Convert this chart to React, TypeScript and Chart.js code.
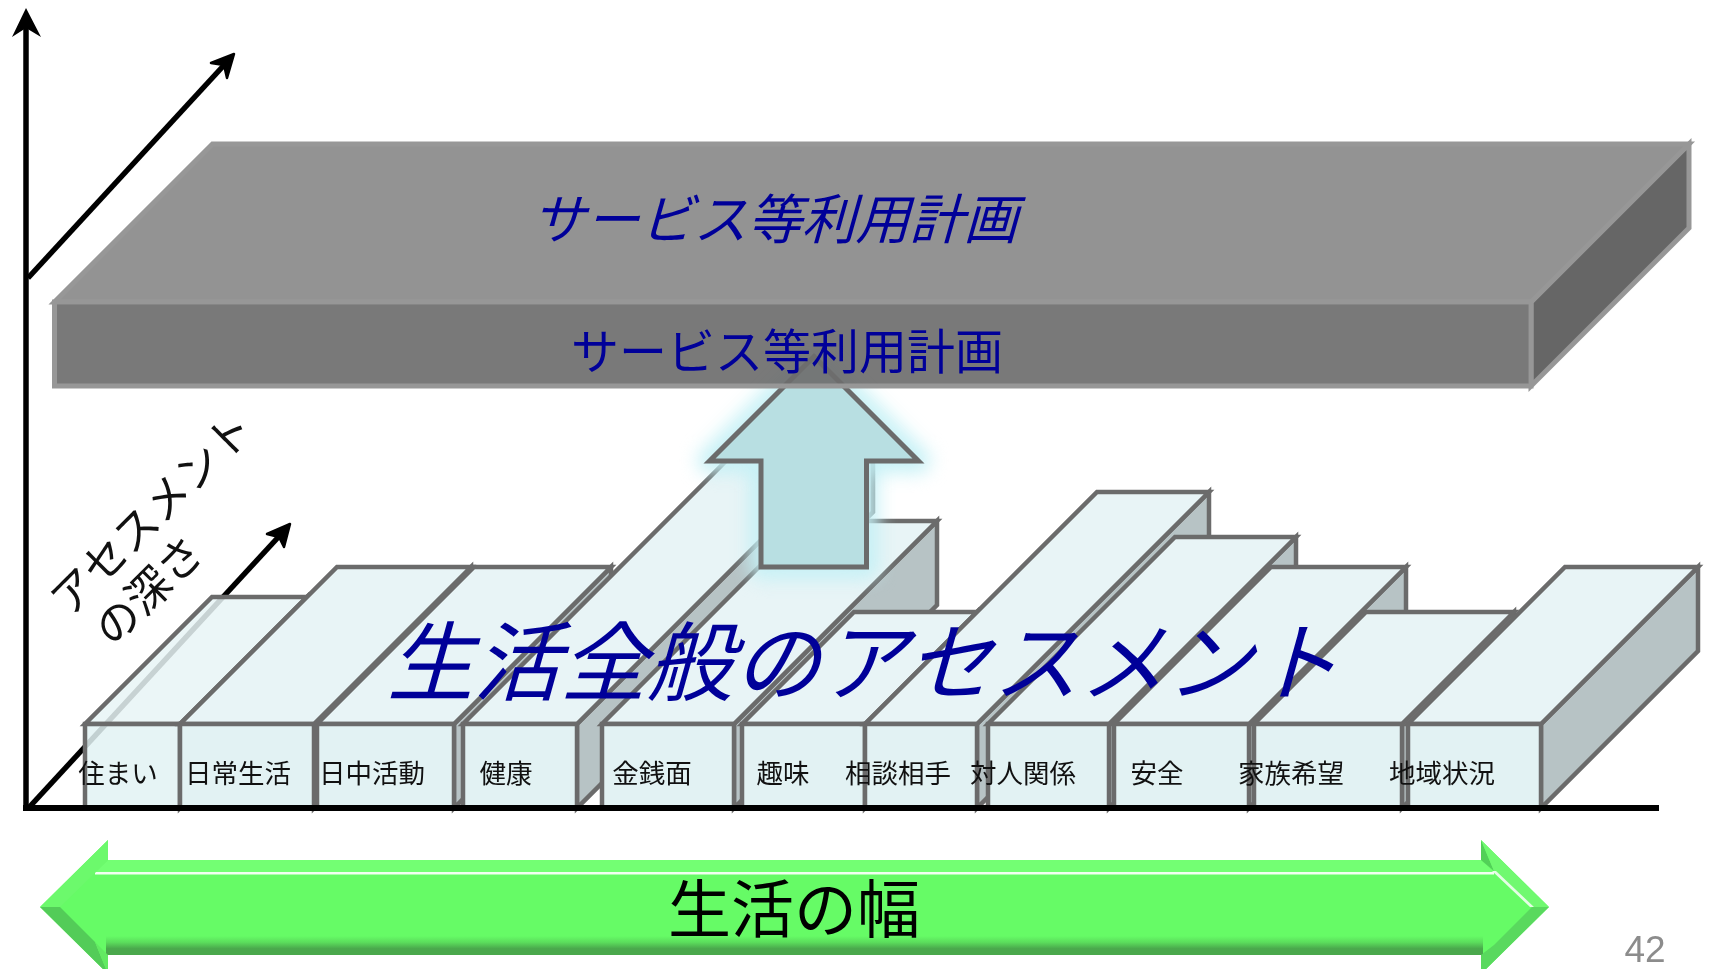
import React, { useEffect, useRef } from "react";
import { Chart, registerables } from "chart.js";

Chart.register(...registerables);

// Life-domain blocks of the assessment layer
const domainLabels = ["住まい", "日常生活", "日中活動", "健康", "金銭面", "趣味", "相談相手", "対人関係", "安全", "家族希望", "地域状況"];
const domainStart = [85, 180, 317, 463, 602, 742, 865, 988, 1114, 1254, 1408];
const domainEnd = [180, 314, 454, 577, 734, 865, 977, 1109, 1249, 1402, 1541];
const domainDepth = [127, 157, 157, 296, 203, 112, 232, 187, 157, 112, 157];
const domainLabelX = [118, 238, 372, 506, 652, 783, 898, 1023, 1157, 1291, 1442];

const blockFrontTop = 724;
const groundY = 808;

// Service-plan slab
const planStart = 54.5;
const planEnd = 1531;
const planFrontTop = 302;
const planFrontBottom = 386;
const planDepth = 158;

// Upward arrow between the layers
const upArrowOutline = [[814, 356.5], [918.5, 461], [866.5, 461], [866.5, 567], [761, 567], [761, 461], [709.5, 461]];

// Axes
const verticalAxis = [[26, 808], [26, 25]];
const verticalHead = [[26, 8], [41, 37], [26, 28], [12, 37]];
const baseAxis = [[23, 808], [1659, 808]];
const upperDepthAxis = [[28, 278], [226, 63]];
const upperDepthHead = [[234, 54], [227, 78], [224, 65], [211, 63]];
const lowerDepthAxis = [[28.5, 808], [283, 532]];
const lowerDepthHead = [[290, 524], [284, 547], [279, 537], [267, 534]];

// "Width of life" block arrow
const wideArrowOutline = [[40, 907], [108, 840], [108, 860], [1481, 860], [1481, 840], [1549, 907], [1481, 974], [1481, 955], [108, 955], [108, 974]];
const wideTopBand = [[108, 860], [1481, 860], [1494, 872], [95, 872]];
const wideHighlight = [[95, 872], [1494, 872], [1494, 874.5], [95, 874.5]];
const wideShadeBand = [[106, 936], [1483, 936], [1483, 955], [106, 955]];
const wideLeftUpper = [[40, 907], [108, 840], [108, 860], [95, 873], [60, 907]];
const wideLeftLower = [[40, 907], [60, 907], [95, 942], [108, 974]];
const wideLeftSliver = [[95, 942], [108, 955], [108, 974]];
const wideRightSliver = [[1481, 840], [1481, 860], [1494, 871]];
const wideRightUpper = [[1481, 840], [1549, 907], [1532, 907], [1494, 871]];
const wideRightStreak = [[1492, 871], [1496, 871], [1534, 907], [1530, 907]];
const wideRightLower = [[1549, 907], [1532, 907], [1494, 945], [1481, 955], [1481, 974]];

// Captions
const planTopTitle = "サービス等利用計画";
const planFrontTitle = "サービス等利用計画";
const assessmentTitle = "生活全般のアセスメント";
const depthCaption = ["アセスメント", "の深さ"];
const widthCaption = "生活の幅";
const pageNumber = "42";

const JP = "'Noto Sans CJK JP', 'Noto Sans', sans-serif";
const EDGE = "#6b6b6b";
const NAVY = "#000099";

type Pt = number[];

const closed = (pts: Pt[]) => [...pts, pts[0], pts[1]].map(([x, y]) => ({ x, y }));

const shape = (pts: Pt[], fill: any, stroke = "transparent", width = 0, extra: any = {}) => ({
  data: closed(pts),
  showLine: true,
  fill: "shape",
  backgroundColor: fill,
  borderColor: stroke,
  borderWidth: width,
  borderJoinStyle: "miter",
  borderCapStyle: "butt",
  pointRadius: 0,
  pointHoverRadius: 0,
  tension: 0,
  clip: false,
  ...extra,
});

const stroke = (pts: Pt[], color: string, width: number, extra: any = {}) => ({
  data: pts.map(([x, y]) => ({ x, y })),
  showLine: true,
  fill: false,
  borderColor: color,
  backgroundColor: color,
  borderWidth: width,
  borderCapStyle: "butt",
  borderJoinStyle: "round",
  pointRadius: 0,
  pointHoverRadius: 0,
  tension: 0,
  clip: false,
  ...extra,
});

// Vertical gradient; the y scale maps one unit to one canvas pixel once laid out
const verticalGradient = (from: number, to: number, stops: string[]) => (c: any) => {
  const { chart } = c;
  const yScale = chart.scales.y;
  const a = yScale ? yScale.getPixelForValue(from) : NaN;
  const b = yScale ? yScale.getPixelForValue(to) : NaN;
  const g = chart.ctx.createLinearGradient(0, Number.isFinite(a) ? a : from, 0, Number.isFinite(b) ? b : to);
  stops.forEach((s, i) => g.addColorStop(i / (stops.length - 1), s));
  return g;
};

const domainBlocks = () =>
  domainLabels.flatMap((_, i) => {
    const s = domainStart[i];
    const e = domainEnd[i];
    const d = domainDepth[i];
    const alpha = i === 0 ? 0.86 : 1;
    return [
      shape([[e, blockFrontTop], [e + d, blockFrontTop - d], [e + d, groundY - d], [e, groundY]], "#b7c3c5", EDGE, 4.5),
      shape([[s, blockFrontTop], [s + d, blockFrontTop - d], [e + d, blockFrontTop - d], [e, blockFrontTop]], `rgba(232,244,246,${alpha})`, EDGE, 4.5),
      shape([[s, blockFrontTop], [e, blockFrontTop], [e, groundY], [s, groundY]], `rgba(226,242,243,${alpha})`, EDGE, 4.5),
    ];
  });

const planSlab = () => {
  const s = planStart;
  const e = planEnd;
  const t = planFrontTop;
  const b = planFrontBottom;
  const d = planDepth;
  return [
    shape([[e, t], [e + d, t - d], [e + d, b - d], [e, b]], "#666666", "#979797", 5),
    shape([[s, t], [s + d, t - d], [e + d, t - d], [e, t]], "#939393", "#979797", 5),
    shape([[s, t], [e, t], [e, b], [s, b]], "rgba(110,110,110,0.92)", "#979797", 5),
  ];
};

const captions = {
  id: "captions",
  afterDatasetsDraw(chart: any) {
    const { ctx, scales } = chart;
    const X = (v: number) => scales.x.getPixelForValue(v);
    const Y = (v: number) => scales.y.getPixelForValue(v);
    const put = (text: string, x: number, y: number, font: string, color: string, skew = 0, rotate = 0) => {
      ctx.save();
      ctx.translate(X(x), Y(y));
      if (rotate) ctx.rotate(rotate);
      if (skew) ctx.transform(1, 0, skew, 1, 0, 0);
      ctx.font = font;
      ctx.fillStyle = color;
      ctx.textAlign = "center";
      ctx.textBaseline = "middle";
      ctx.fillText(text, 0, 0);
      ctx.restore();
    };

    domainLabels.forEach((label, i) => put(label, domainLabelX[i], 773, `26.5px ${JP}`, "#111111"));
    put(planTopTitle, 780, 218, `54px ${JP}`, NAVY, -0.28);
    put(planFrontTitle, 787, 351, `48px ${JP}`, NAVY);
    put(assessmentTitle, 872, 661, `86.5px ${JP}`, NAVY, -0.28);
    put(depthCaption[0], 151, 513, `44px ${JP}`, "#111111", 0, -Math.PI / 4);
    put(depthCaption[1], 148, 590, `44px ${JP}`, "#111111", 0, -Math.PI / 4);
    put(widthCaption, 794, 908, `63px ${JP}`, "#000000");

    ctx.save();
    ctx.font = "37px 'Liberation Sans', Arial, sans-serif";
    ctx.fillStyle = "#8c8c8c";
    ctx.textAlign = "center";
    ctx.textBaseline = "alphabetic";
    ctx.fillText(pageNumber, X(1645), Y(962));
    ctx.restore();
  },
};

// Softens the halo dataset behind the upward arrow
const halo = {
  id: "halo",
  beforeDatasetDraw(chart: any, args: any) {
    const ds = chart.data.datasets[args.index];
    if (ds.softEdge) {
      chart.ctx.save();
      chart.ctx.filter = `blur(${ds.softEdge}px)`;
    }
  },
  afterDatasetDraw(chart: any, args: any) {
    if (chart.data.datasets[args.index].softEdge) chart.ctx.restore();
  },
};

export default function App() {
  const canvasRef = useRef<HTMLCanvasElement | null>(null);

  useEffect(() => {
    // Listed back to front; Chart.js paints the first dataset last, so the list is flipped
    const layers = [
      stroke(verticalAxis, "#000000", 5.5),
      shape(verticalHead, "#000000"),
      stroke(upperDepthAxis, "#000000", 5.5),
      shape(upperDepthHead, "#000000", "#000000", 2.5, { borderJoinStyle: "round" }),
      stroke(lowerDepthAxis, "#000000", 5.5),
      shape(lowerDepthHead, "#000000", "#000000", 2.5, { borderJoinStyle: "round" }),
      ...domainBlocks(),
      stroke(baseAxis, "#000000", 6),
      stroke([...upArrowOutline, upArrowOutline[0]], "rgba(196,240,245,0.95)", 24, { softEdge: 9, borderJoinStyle: "round" }),
      shape(upArrowOutline, "#b8dfe2", EDGE, 5),
      ...planSlab(),
      shape(wideArrowOutline, "#66fb66"),
      shape(wideTopBand, "#73ff73"),
      shape(wideHighlight, "#f2fff2"),
      shape(wideShadeBand, verticalGradient(936, 955, ["#66fb66", "#5bdd5c", "#4aa84c", "#4aa84c"])),
      shape(wideLeftUpper, "#6cf96c"),
      shape(wideLeftLower, "#53cc58"),
      shape(wideLeftSliver, "#62ea62"),
      shape(wideRightSliver, "#52d058"),
      shape(wideRightUpper, "#70f970"),
      shape(wideRightStreak, "#e4fde4"),
      shape(wideRightLower, "#59d95e"),
    ];
    const chart = new Chart(canvasRef.current as HTMLCanvasElement, {
      type: "scatter",
      data: { datasets: layers.reverse() as any },
      options: {
        responsive: false,
        animation: false,
        events: [],
        layout: { padding: 0 },
        scales: {
          x: { type: "linear", min: 0, max: 1709, display: false },
          y: { type: "linear", min: 0, max: 969, reverse: true, display: false },
        },
        plugins: {
          legend: { display: false },
          tooltip: { enabled: false },
          title: { display: false },
        },
      } as any,
      plugins: [halo, captions],
    });
    return () => chart.destroy();
  }, []);

  return (
    <div style={{ position: "fixed", left: 0, top: 0, width: 1709, height: 969, background: "#ffffff", overflow: "hidden" }}>
      <canvas ref={canvasRef} width={1709} height={969} style={{ display: "block" }} />
    </div>
  );
}
